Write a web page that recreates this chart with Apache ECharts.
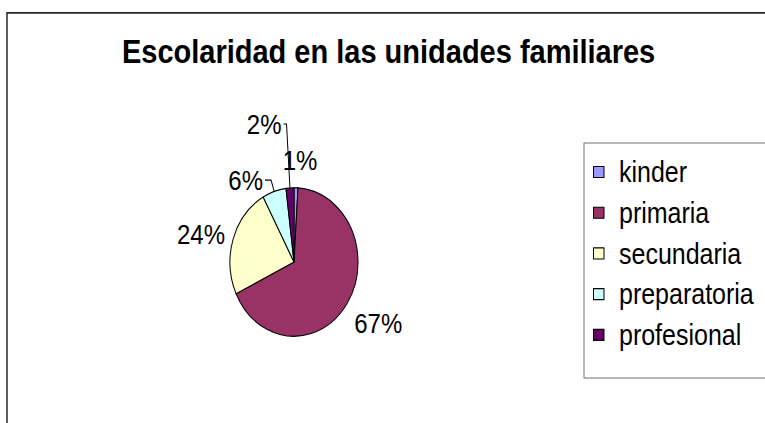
<!DOCTYPE html>
<html>
<head>
<meta charset="utf-8">
<script src="https://cdn.jsdelivr.net/npm/echarts@6/dist/echarts.min.js"></script>
<style>
  html, body { margin: 0; padding: 0; background: #fff; width: 765px; height: 423px; overflow: hidden; }
  /* the original chart is stretched vertically, so the whole drawing is too */
  #main { width: 765px; height: 365px; transform: scaleY(1.16); transform-origin: 0 0; }
</style>
</head>
<body>
<div id="main"></div>
<script>
// data
var categories = ["kinder", "primaria", "secundaria", "preparatoria", "profesional"];
var values = [1, 67, 24, 6, 2];

// styles
var colors = ["#9999FF", "#993366", "#FFFFCC", "#CCFFFF", "#660066"];
var font = "Liberation Sans, Arial, sans-serif";

// label placement (line lengths around the pie)
var lineLen = [24, 29.4, 14.3, 10.3, 55.2];
var lineLen2 = [-19, -22, -10.5, 6, 3];
var lineShow = [false, false, false, true, true];
var labelDist = [5, 5, 5, 2, 2];

var pieData = categories.map(function (name, i) {
  return {
    name: name,
    value: values[i],
    itemStyle: { color: colors[i] },
    label: { distanceToLabelLine: labelDist[i] },
    labelLine: { show: lineShow[i], length: lineLen[i], length2: lineLen2[i] }
  };
});

var myChart = echarts.init(document.getElementById("main"), null, { renderer: "svg" });

var option = {
  animation: false,
  backgroundColor: "#fff",
  title: {
    text: "Escolaridad en las unidades familiares",
    left: 122,
    top: 30,
    padding: 0,
    textStyle: { fontFamily: font, fontSize: 29, fontWeight: "bold", color: "#000", lineHeight: 29 }
  },
  graphic: [
    {
      type: "rect",
      shape: { x: 7, y: 11.2, width: 820, height: 500 },
      style: { fill: "none", stroke: "#2a2a2a", lineWidth: 1.5 },
      silent: true
    },
    {
      type: "rect",
      shape: { x: 584, y: 123.3, width: 300, height: 202.6 },
      style: { fill: "none", stroke: "#707070", lineWidth: 1 },
      silent: true
    }
  ],
  legend: {
    orient: "vertical",
    left: 593,
    top: 135.8,
    padding: 0,
    itemGap: 10.1,
    itemWidth: 10.5,
    itemHeight: 9.5,
    icon: "rect",
    selectedMode: false,
    itemStyle: { borderColor: "#000", borderWidth: 1 },
    textStyle: { fontFamily: font, fontSize: 25, color: "#000", lineHeight: 25, padding: [0, 0, 0, 10] },
    data: categories
  },
  series: [
    {
      type: "pie",
      center: [294, 225.9],
      radius: 64,
      startAngle: 90,
      clockwise: true,
      avoidLabelOverlap: false,
      silent: true,
      itemStyle: { borderColor: "#000", borderWidth: 1 },
      label: {
        position: "outside",
        formatter: "{d}%",
        fontFamily: font,
        fontSize: 24,
        color: "#000"
      },
      labelLine: { lineStyle: { color: "#000", width: 1 } },
      data: pieData
    }
  ]
};
myChart.setOption(option);
</script>
</body>
</html>
